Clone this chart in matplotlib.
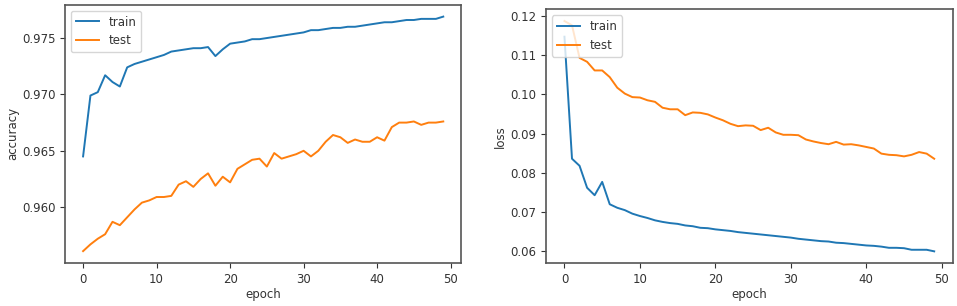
import numpy as np
import matplotlib.pyplot as plt

epochs = np.arange(50)

train_acc = [0.9645, 0.9699, 0.9702, 0.9717, 0.9711, 0.9707, 0.9724, 0.9727, 0.9729, 0.9731,
             0.9733, 0.9735, 0.9738, 0.9739, 0.9740, 0.9741, 0.9741, 0.9742, 0.9734, 0.9740,
             0.9745, 0.9746, 0.9747, 0.9749, 0.9749, 0.9750, 0.9751, 0.9752, 0.9753, 0.9754,
             0.9755, 0.9757, 0.9757, 0.9758, 0.9759, 0.9759, 0.9760, 0.9760, 0.9761, 0.9762,
             0.9763, 0.9764, 0.9764, 0.9765, 0.9766, 0.9766, 0.9767, 0.9767, 0.9767, 0.9769]
test_acc = [0.9561, 0.9567, 0.9572, 0.9576, 0.9587, 0.9584, 0.9591, 0.9598, 0.9604, 0.9606,
            0.9609, 0.9609, 0.9610, 0.9620, 0.9623, 0.9618, 0.9625, 0.9630, 0.9619, 0.9627,
            0.9622, 0.9634, 0.9638, 0.9642, 0.9643, 0.9636, 0.9648, 0.9643, 0.9645, 0.9647,
            0.9650, 0.9645, 0.9650, 0.9658, 0.9664, 0.9662, 0.9657, 0.9660, 0.9658, 0.9658,
            0.9662, 0.9659, 0.9671, 0.9675, 0.9675, 0.9676, 0.9673, 0.9675, 0.9675, 0.9676]

train_loss = [0.1147, 0.0836, 0.0818, 0.0762, 0.0743, 0.0777, 0.0720, 0.0711, 0.0705, 0.0696,
              0.0690, 0.0685, 0.0679, 0.0675, 0.0672, 0.0670, 0.0666, 0.0664, 0.0660, 0.0659,
              0.0656, 0.0654, 0.0652, 0.0649, 0.0647, 0.0645, 0.0643, 0.0641, 0.0639, 0.0637,
              0.0635, 0.0632, 0.0630, 0.0628, 0.0626, 0.0625, 0.0622, 0.0621, 0.0619, 0.0617,
              0.0615, 0.0614, 0.0612, 0.0609, 0.0609, 0.0608, 0.0604, 0.0604, 0.0604, 0.0600]
test_loss = [0.1187, 0.1176, 0.1093, 0.1083, 0.1061, 0.1061, 0.1044, 0.1017, 0.1002, 0.0993,
             0.0992, 0.0985, 0.0981, 0.0966, 0.0962, 0.0962, 0.0947, 0.0954, 0.0953, 0.0949,
             0.0941, 0.0934, 0.0925, 0.0919, 0.0921, 0.0920, 0.0909, 0.0915, 0.0903, 0.0897,
             0.0897, 0.0896, 0.0885, 0.0880, 0.0876, 0.0873, 0.0879, 0.0872, 0.0873, 0.0870,
             0.0866, 0.0862, 0.0849, 0.0846, 0.0845, 0.0842, 0.0846, 0.0853, 0.0849, 0.0836]

plt.rcParams['font.size'] = 8.5
plt.rcParams['text.color'] = '#333333'
plt.rcParams['axes.labelcolor'] = '#333333'
plt.rcParams['xtick.color'] = '#333333'
plt.rcParams['ytick.color'] = '#333333'
plt.rcParams['axes.edgecolor'] = '#555555'

fig = plt.figure(figsize=(9.57, 3.06), dpi=100)
ax1 = fig.add_axes([0.068, 0.141, 0.414, 0.843])
ax2 = fig.add_axes([0.5705, 0.141, 0.425, 0.828])

# accuracy
ax1.plot(epochs, train_acc, color='#1f77b4', lw=1.4, label='train')
ax1.plot(epochs, test_acc, color='#ff7f0e', lw=1.4, label='test')
ax1.set_xlabel('epoch', labelpad=2)
ax1.set_ylabel('accuracy', labelpad=2)
ax1.legend(loc='upper left')

# loss
ax2.plot(epochs, train_loss, color='#1f77b4', lw=1.4, label='train')
ax2.plot(epochs, test_loss, color='#ff7f0e', lw=1.4, label='test')
ax2.set_xlabel('epoch', labelpad=2)
ax2.set_ylabel('loss', labelpad=2)
ax2.legend(loc='upper left')

for ax in (ax1, ax2):
    ax.set_xticks([0, 10, 20, 30, 40, 50])
    for s in ax.spines.values():
        s.set_linewidth(1.2)

fig.savefig('out.png', dpi=100)
